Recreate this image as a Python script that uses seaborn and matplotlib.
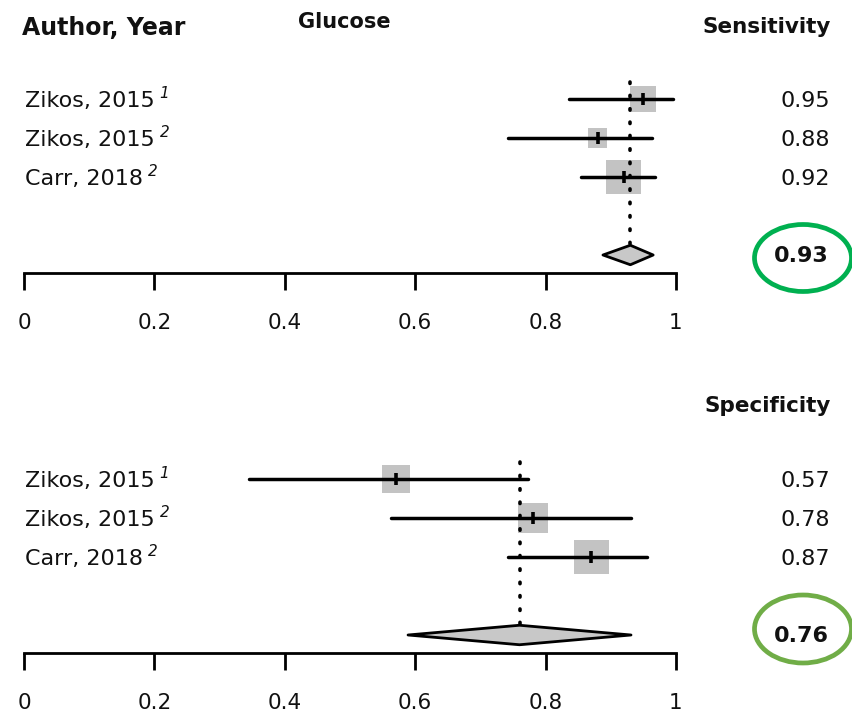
import numpy as np
import pandas as pd
import matplotlib
matplotlib.use("Agg")
import matplotlib.pyplot as plt
import seaborn as sns
from matplotlib.patches import Ellipse

# ---------------- data ----------------
studies = ["Zikos, 2015", "Zikos, 2015", "Carr, 2018"]
study_refs = ["1", "2", "2"]

sens_est = [0.95, 0.88, 0.92]
sens_lo = [0.836, 0.742, 0.854]
sens_hi = [0.995, 0.963, 0.968]
sens_weight = [29.9, 16.0, 54.2]
sens_pooled = [0.888, 0.93, 0.965]   # lower, estimate, upper

spec_est = [0.57, 0.78, 0.87]
spec_lo = [0.345, 0.563, 0.742]
spec_hi = [0.773, 0.931, 0.955]
spec_weight = [27.0, 30.9, 42.1]
spec_pooled = [0.589, 0.76, 0.931]

xticks = [0, 0.2, 0.4, 0.6, 0.8, 1]
xtick_labels = ["0", "0.2", "0.4", "0.6", "0.8", "1"]

# ---------------- style ----------------
sns.set_theme(style="white")
plt.rcParams["font.family"] = ["DejaVu Sans"]

W, H = 853, 714
fig = plt.figure(figsize=(W / 100, H / 100), dpi=100)
renderer = fig.canvas.get_renderer()
ROWH = 39.0
INK = "#111111"


def fx(x):
    return x / W


def fy(y):
    return 1 - y / H


def add_panel(top_row_px, est, lo, hi, wts, pooled, circle_color, circle_c):
    axis_px = top_row_px + 174
    ax_top = top_row_px - 0.5 * ROWH
    ax = fig.add_axes([fx(24), fy(axis_px), 652 / W, (axis_px - ax_top) / H])
    ymax_row = 1 + (axis_px - top_row_px) / ROWH
    ax.set_xlim(0, 1)
    ax.set_ylim(ymax_row, 0.5)
    rows = [1, 2, 3]
    wmax = max(wts)
    df = pd.DataFrame({"est": est, "row": rows, "lo": lo, "hi": hi,
                       "area": [635 * w / wmax for w in wts]})
    # weighted boxes
    sns.scatterplot(data=df, x="est", y="row", s=df["area"], marker="s",
                    color="#c3c3c3", linewidth=0, ax=ax, legend=False,
                    zorder=1, clip_on=False)
    # confidence intervals
    ax.hlines(df["row"], df["lo"], df["hi"], color="black", lw=2.5,
              zorder=2, capstyle="round")
    # pooled diamond
    plo, pe, phi = pooled
    prow = 5
    hh = 0.25
    ax.fill([plo, pe, phi, pe, plo], [prow, prow - hh, prow, prow + hh, prow],
            facecolor="#c8c8c8", edgecolor="black", lw=2.0, zorder=3,
            clip_on=False, joinstyle="round")
    # dotted reference line at pooled estimate
    ax.plot([pe, pe], [0.56, prow - hh], color="black", lw=2.6,
            linestyle=(0, (0.4, 3.3)), dash_capstyle="round", zorder=3,
            clip_on=False)
    # point estimate ticks
    ax.plot(df["est"], df["row"], linestyle="none", marker="|",
            markersize=8, mew=2.6, color="black", zorder=4)
    # axis styling
    for s in ["top", "left", "right"]:
        ax.spines[s].set_visible(False)
    ax.spines["bottom"].set_linewidth(2.0)
    ax.spines["bottom"].set_color("black")
    ax.spines["bottom"].set_capstyle("projecting")
    ax.set_xticks(xticks)
    ax.set_xticklabels(xtick_labels)
    ax.set_yticks([])
    ax.tick_params(axis="x", direction="out", length=12.5, width=2.0,
                   pad=16, labelsize=15.5, colors="black", bottom=True)
    for lab in ax.get_xticklabels():
        lab.set_color(INK)
    ax.set_xlabel("")
    ax.set_ylabel("")
    ax.patch.set_alpha(0)

    # study labels (with italic superscript references) and values
    for i, (name, ref) in enumerate(zip(studies, study_refs)):
        ypx = top_row_px + i * ROWH
        t = fig.text(fx(25), fy(ypx + 8), name, fontsize=16, ha="left",
                     va="baseline", color=INK)
        x_end = t.get_window_extent(renderer=renderer).x1
        fig.text((x_end + 5) / W, fy(ypx - 1), ref, fontsize=11,
                 style="italic", ha="left", va="baseline", color=INK)
        fig.text(fx(830), fy(ypx + 8), f"{est[i]:.2f}", fontsize=16,
                 ha="right", va="baseline", color=INK)
    ppx = top_row_px + 4 * ROWH - 1
    fig.text(fx(829), fy(ppx + 8), f"{pe:.2f}", fontsize=16,
             fontweight="bold", ha="right", va="baseline", color=INK)
    cx, cy, cw, ch = circle_c
    fig.add_artist(Ellipse((fx(cx), fy(cy)), cw / W, ch / H, fill=False,
                           edgecolor=circle_color, lw=3.4,
                           transform=fig.transFigure))
    return ax


add_panel(99, sens_est, sens_lo, sens_hi, sens_weight, sens_pooled,
          "#00b050", (803, 258, 97, 67))
add_panel(479, spec_est, spec_lo, spec_hi, spec_weight, spec_pooled,
          "#70ad47", (803, 629, 97, 68))

# headers
fig.text(fx(22), fy(35), "Author, Year", fontsize=17, fontweight="bold",
         ha="left", va="baseline", color=INK)
fig.text(fx(298), fy(28), "Glucose", fontsize=15, fontweight="bold",
         ha="left", va="baseline", color=INK)
fig.text(fx(831), fy(33), "Sensitivity", fontsize=15.5, fontweight="bold",
         ha="right", va="baseline", color=INK)
fig.text(fx(831), fy(412), "Specificity", fontsize=15.5, fontweight="bold",
         ha="right", va="baseline", color=INK)

fig.savefig("out.png", dpi=100)
